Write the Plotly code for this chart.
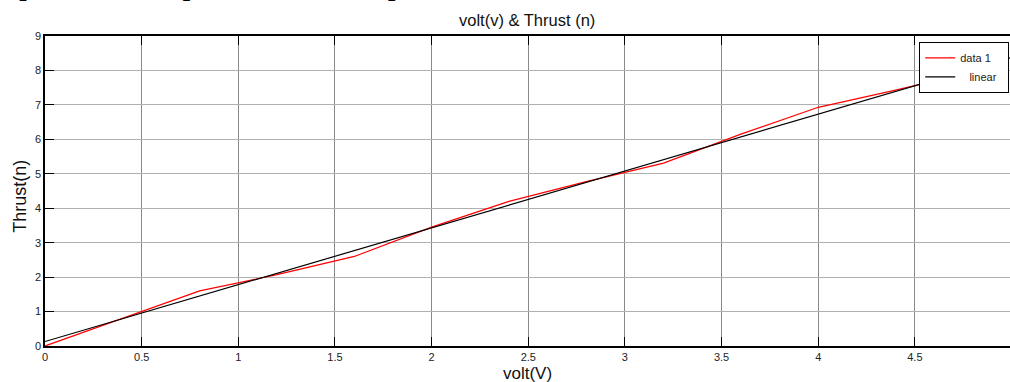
import plotly.graph_objects as go

# Data
volt = [0, 0.4, 0.8, 1.2, 1.6, 2.0, 2.4, 2.8, 3.2, 3.6, 4.0, 4.4, 4.8]
thrust_data = [0, 0.8, 1.6, 2.07, 2.6, 3.45, 4.2, 4.77, 5.31, 6.15, 6.93, 7.43, 7.95]
volt_fit = [0, 0.4, 0.8, 1.2, 1.6, 2.0, 2.4, 2.8, 3.2, 3.6, 4.0, 4.4, 4.8, 5.0]
thrust_fit = [0.13, 0.79, 1.45, 2.11, 2.77, 3.43, 4.09, 4.75, 5.41, 6.07, 6.73, 7.39, 8.05, 8.38]
x_ticks = [0, 0.5, 1, 1.5, 2, 2.5, 3, 3.5, 4, 4.5, 5]
x_ticklabels = ["0", "0.5", "1", "1.5", "2", "2.5", "3", "3.5", "4", "4.5", "5"]
y_ticks = [0, 1, 2, 3, 4, 5, 6, 7, 8, 9]

FONT = "Liberation Sans, Arial, sans-serif"

fig = go.Figure()
fig.add_trace(go.Scatter(x=volt, y=thrust_data, mode="lines", name="data 1",
                         line=dict(color="#ff0000", width=1.2)))
fig.add_trace(go.Scatter(x=volt_fit, y=thrust_fit, mode="lines",
                         name="\u00a0\u00a0\u00a0linear\u00a0\u00a0",
                         line=dict(color="#000000", width=1.2)))

axis_common = dict(
    showline=True, linecolor="black", linewidth=1.5,
    ticks="inside", ticklen=9, tickcolor="black", tickwidth=1,
    showgrid=True, zeroline=False, automargin=False,
    tickfont=dict(family=FONT, size=11, color="#222"),
)

fig.update_layout(
    width=1010, height=382,
    margin=dict(l=45, r=0, t=36, b=36, autoexpand=False),
    paper_bgcolor="white", plot_bgcolor="white",
    showlegend=True,
    legend=dict(x=0.999, y=0.98, xanchor="right", yanchor="top",
                bgcolor="white", bordercolor="black", borderwidth=1.2,
                font=dict(family=FONT, size=11, color="#222"),
                tracegroupgap=0, itemwidth=30),
    xaxis=dict(range=[0, 4.992], tickvals=x_ticks, ticktext=x_ticklabels, mirror="ticks",
               gridcolor="#8a8a8a", gridwidth=1, **axis_common),
    yaxis=dict(range=[0, 9], tickvals=y_ticks, mirror=False,
               gridcolor="#b0b0b0", gridwidth=1.3, **axis_common),
    annotations=[
        dict(text="volt(v) & Thrust (n)", xref="paper", yref="paper",
             x=0.4995, y=(346 - 20.5) / 310, xanchor="center", yanchor="middle",
             showarrow=False, font=dict(family=FONT, size=16.5, color="#111")),
        dict(text="volt(V)", xref="paper", yref="paper",
             x=0.4995, y=(346 - 373) / 310, xanchor="center", yanchor="middle",
             showarrow=False, font=dict(family=FONT, size=17, color="#111")),
        dict(text="Thrust(n)", xref="paper", yref="paper",
             x=(20 - 45) / 965, y=(346 - 196.7) / 310, xanchor="center", yanchor="middle",
             textangle=-90, showarrow=False, font=dict(family=FONT, size=18, color="#111")),
        dict(text="p between input data and output is now shown.", xref="paper", yref="paper",
             x=(17 - 45) / 965, y=(346 - 3) / 310, xanchor="left", yanchor="bottom",
             showarrow=False, font=dict(family="Liberation Serif, Times New Roman, serif", size=32, color="black")),
    ],
)

fig.write_html("out.html")
